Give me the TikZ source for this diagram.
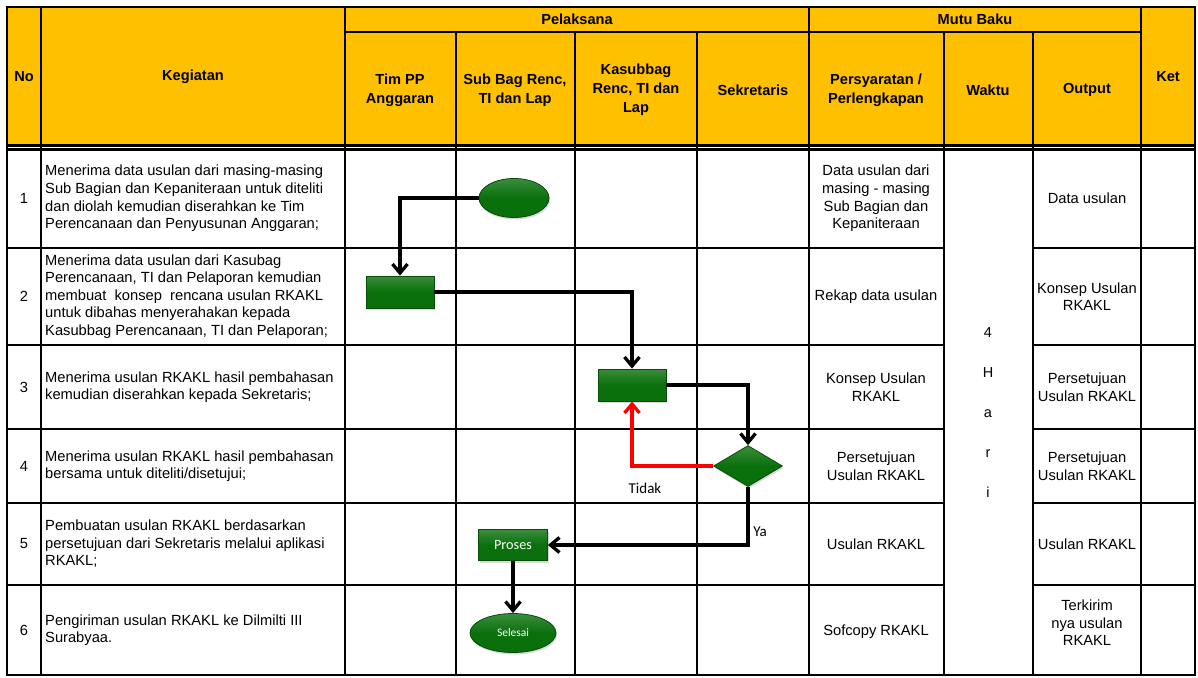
\documentclass[tikz,border=0pt]{standalone}
\usepackage{fontspec}
\setmainfont{Liberation Sans}
\newfontfamily\calib{Carlito}
\usetikzlibrary{arrows.meta,shapes.geometric,shadows}
\definecolor{hdr}{RGB}{255,192,0}
\definecolor{shg}{RGB}{10,112,12}
\definecolor{shgd}{RGB}{6,78,8}
\begin{document}
\begin{tikzpicture}[x=1pt,y=-1pt,
  gridl/.style={line width=2.8pt},
  hd/.style={font=\bfseries\fontsize{14.6}{19}\selectfont, align=center, inner sep=0},
  bd/.style={font=\fontsize{14.7}{17.6}\selectfont, align=center, inner sep=0},
  kg/.style={font=\fontsize{14.7}{17.6}\selectfont, align=left, anchor=west, inner sep=0},
  lbl/.style={font=\calib\fontsize{15}{18}\selectfont, inner sep=0},
  flow/.style={line width=3.3pt, -{Straight Barb[length=9pt,width=15pt,line width=3.3pt]}},
  gshape/.style={top color=shg!80!white, bottom color=shg, middle color=shg, draw=shgd, line width=0.8pt, inner sep=0,
    drop shadow={opacity=0.3, shadow xshift=1pt, shadow yshift=-2pt}},
  term/.style={gshape, ellipse, minimum width=70pt, minimum height=39pt},
  proc/.style={gshape, rectangle, minimum width=68pt, minimum height=32pt},
  dec/.style={gshape, diamond, minimum width=69pt, minimum height=41pt}
]
\useasboundingbox (0,0) rectangle (1198,677);
% header background
\fill[hdr] (7,7) rectangle (1195,146);
% grid lines
\draw[gridl] (7,7) rectangle (1195,675);
\draw[gridl] (345,32) -- (1141,32);
\draw[line width=2.2pt] (7,145.5) -- (1195,145.5);
\draw[line width=2.2pt] (7,149.5) -- (1195,149.5);
\foreach \x in {41,345,809,1141} \draw[gridl] (\x,7) -- (\x,675);
\foreach \x in {456,575,697,944,1033} \draw[gridl] (\x,32) -- (\x,675);
\foreach \y in {248,345,429,503,585} {
  \draw[gridl] (7,\y) -- (944,\y);
  \draw[gridl] (1033,\y) -- (1195,\y);
}
% header texts
\node[hd] (hno) at (24,77) {No};
\node[hd] (hkeg) at (193,77) {Kegiatan};
\node[hd] (hpel) at (577,19) {Pelaksana};
\node[hd] (hmutu) at (975,19) {Mutu Baku};
\node[hd] (hket) at (1168,77) {Ket};
\node[hd] (htim) at (400,90) {Tim PP\\Anggaran};
\node[hd] (hsub) at (515,90) {Sub Bag Renc,\\TI dan Lap};
\node[hd] (hkas) at (636,90) {Kasubbag\\Renc, TI dan\\Lap};
\node[hd] (hsek) at (753,90) {Sekretaris};
\node[hd] (hper) at (876,90) {Persyaratan /\\Perlengkapan};
\node[hd] (hwak) at (988,90) {Waktu};
\node[hd] (hout) at (1087,90) {Output};
% row numbers
\node[bd] (n1) at (24,198.5) {1};
\node[bd] (n2) at (24,296.5) {2};
\node[bd] (n3) at (24,387) {3};
\node[bd] (n4) at (24,466) {4};
\node[bd] (n5) at (24,544) {5};
\node[bd] (n6) at (24,630) {6};
% kegiatan
\node[kg] (k1) at (45,198.5) {Menerima data usulan dari masing-masing\\Sub Bagian dan Kepaniteraan untuk diteliti\\dan diolah kemudian diserahkan ke Tim\\Perencanaan dan Penyusunan Anggaran;};
\node[kg] (k2) at (45,296.5) {Menerima data usulan dari Kasubag\\Perencanaan, TI dan Pelaporan kemudian\\membuat\ \ konsep\ \ rencana usulan RKAKL\\untuk dibahas menyerahakan kepada\\Kasubbag Perencanaan, TI dan Pelaporan;};
\node[kg] (k3) at (45,387) {Menerima usulan RKAKL hasil pembahasan\\kemudian diserahkan kepada Sekretaris;};
\node[kg] (k4) at (45,466) {Menerima usulan RKAKL hasil pembahasan\\bersama untuk diteliti/disetujui;};
\node[kg] (k5) at (45,544) {Pembuatan usulan RKAKL berdasarkan\\persetujuan dari Sekretaris melalui aplikasi\\RKAKL;};
\node[kg] (k6) at (45,630) {Pengiriman usulan RKAKL ke Dilmilti III\\Surabyaa.};
% persyaratan
\node[bd] (p1) at (876,198.5) {Data usulan dari\\masing - masing\\Sub Bagian dan\\Kepaniteraan};
\node[bd] (p2) at (876,296.5) {Rekap data usulan};
\node[bd] (p3) at (876,387) {Konsep Usulan\\RKAKL};
\node[bd] (p4) at (876,466) {Persetujuan\\Usulan RKAKL};
\node[bd] (p5) at (876,544) {Usulan RKAKL};
\node[bd] (p6) at (876,632) {Sofcopy RKAKL};
% waktu
\node[font=\fontsize{14.5}{40}\selectfont, align=center, inner sep=0] (w) at (988,412.5) {4\\H\\a\\r\\i};
% output
\node[bd] (o1) at (1087,198.5) {Data usulan};
\node[bd] (o2) at (1087,296.5) {Konsep Usulan\\RKAKL};
\node[bd] (o3) at (1087,387) {Persetujuan\\Usulan RKAKL};
\node[bd] (o4) at (1087,466) {Persetujuan\\Usulan RKAKL};
\node[bd] (o5) at (1087,544) {Usulan RKAKL};
\node[bd] (o6) at (1087,623) {Terkirim\\nya usulan\\RKAKL};
% flow shapes
\node[term] (start) at (514,198) {};
\node[proc] (r1) at (400,292) {};
\node[proc] (r2) at (632,385) {};
\node[dec] (d) at (748,466) {};
\node[proc, minimum width=69pt, minimum height=31pt, text=white, font=\calib\fontsize{14.2}{17}\selectfont] (pr) at (513,545) {Proses};
\node[term, minimum width=86pt, text=white, font=\calib\fontsize{11.5}{14}\selectfont] (end) at (513,633) {Selesai};
% connectors
\draw[flow] (start.west) -| (r1.north);
\draw[flow] (r1.east) -| (r2.north);
\draw[flow] (r2.east) -| (d.north);
\draw[flow, red] (d.west) -| (r2.south);
\draw[flow] (d.south) |- (pr.east);
\draw[flow] (pr.south) -- (end.north);
\node[lbl] (tidak) at (645,488) {Tidak};
\node[lbl] (ya) at (760,532) {Ya};
\end{tikzpicture}
\end{document}
